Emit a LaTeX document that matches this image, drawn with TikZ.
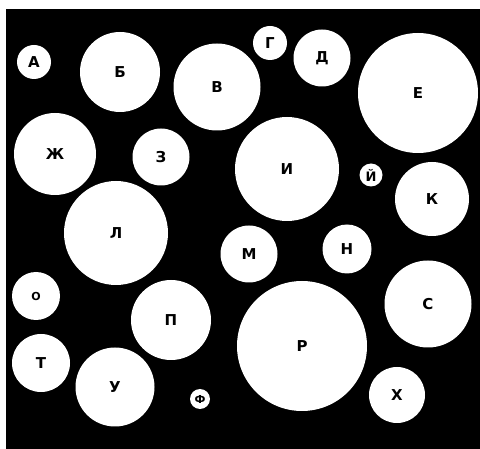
\documentclass[tikz,border=0pt]{standalone}
\usepackage{fontspec}
\setmainfont{DejaVu Sans}
\begin{document}
\begin{tikzpicture}[x=1pt,y=-1pt,
  ball/.style={circle,fill=white,inner sep=0pt,font=\fontsize{15}{15}\selectfont\bfseries,text=black},
  smallball/.style={ball,font=\fontsize{11}{11}\selectfont\bfseries}]
\useasboundingbox (0,0) rectangle (480,449);
\fill[white] (0,0) rectangle (480,449);
\fill[black] (6,9) rectangle (480,449);
\node[ball,minimum size=34pt] (a) at (34,62) {А};
\node[ball,minimum size=80pt] (b) at (120,72) {Б};
\node[ball,minimum size=87pt] (v) at (217,87) {В};
\node[ball,minimum size=34pt] (g) at (270,43) {Г};
\node[ball,minimum size=57pt] (d) at (322,58) {Д};
\node[ball,minimum size=120pt] (e) at (418,93) {Е};
\node[ball,minimum size=82pt] (zh) at (55,154) {Ж};
\node[ball,minimum size=57pt] (z) at (161,157) {З};
\node[ball,minimum size=104pt] (i) at (287,169) {И};
\node[smallball,minimum size=23pt,font=\fontsize{13}{13}\selectfont\bfseries] (j) at (371,175) {Й};
\node[ball,minimum size=74pt] (k) at (432,199) {К};
\node[ball,minimum size=104pt] (l) at (116,233) {Л};
\node[ball,minimum size=57pt] (m) at (249,254) {М};
\node[ball,minimum size=49pt] (n) at (347,249) {Н};
\node[smallball,minimum size=48pt] (o) at (36,296) {О};
\node[ball,minimum size=80pt] (p) at (171,320) {П};
\node[ball,minimum size=130pt] (r) at (302,346) {Р};
\node[ball,minimum size=87pt] (s) at (428,304) {С};
\node[ball,minimum size=58pt] (t) at (41,363) {Т};
\node[ball,minimum size=79pt] (u) at (115,387) {У};
\node[smallball,minimum size=20pt,font=\fontsize{11}{11}\selectfont\bfseries] (f) at (200,399) {Ф};
\node[ball,minimum size=56pt] (h) at (397,395) {Х};
\end{tikzpicture}
\end{document}
